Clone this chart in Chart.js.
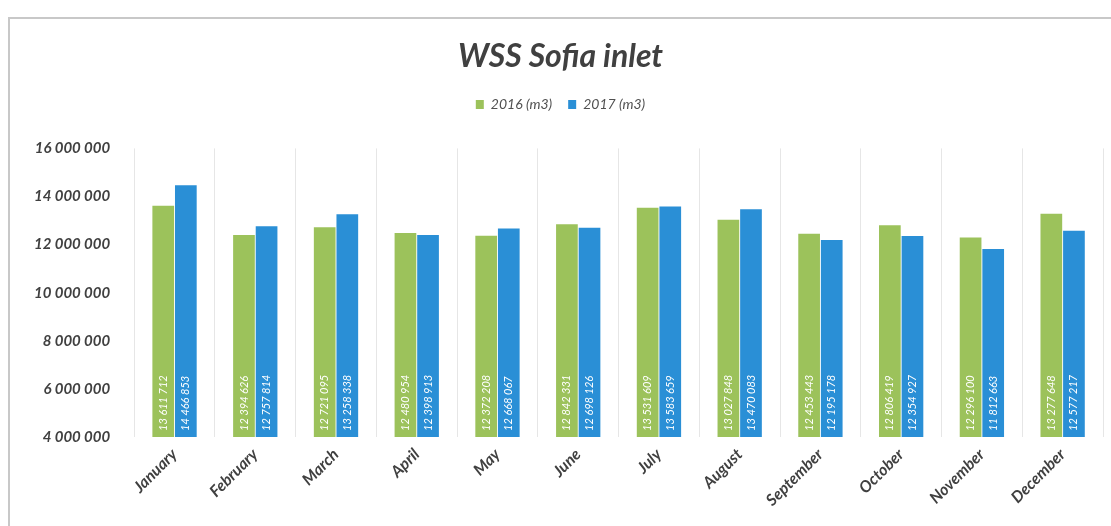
<!DOCTYPE html>
<html>
<head>
<meta charset="utf-8">
<script src="https://cdn.jsdelivr.net/npm/chart.js@4/dist/chart.umd.min.js"></script>
<style>
html,body{margin:0;padding:0;background:#fff;}
#wrap{position:absolute;left:0;top:0;width:1111px;height:526px;}
#frame{position:absolute;left:8px;top:17px;width:1120px;height:520px;border-top:2px solid #c8c8c8;border-left:2px solid #c8c8c8;pointer-events:none;}
canvas{position:absolute;left:0;top:0;}
</style>
</head>
<body>
<div id="wrap">
<canvas id="c" width="1111" height="526"></canvas>
<div id="frame"></div>
</div>
<script>
const titleText = 'WSS Sofia inlet';
const categories = ['January','February','March','April','May','June','July','August','September','October','November','December'];
const series2016Label = '2016 (m3)';
const series2017Label = '2017 (m3)';
const values2016 = [13611712, 12394626, 12721095, 12480954, 12372208, 12842331, 13531609, 13027848, 12453443, 12806419, 12296100, 13277648];
const values2017 = [14466853, 12757814, 13258338, 12398913, 12668067, 12698126, 13583659, 13470083, 12195178, 12354927, 11812663, 12577217];
const yTicks = [4000000, 6000000, 8000000, 10000000, 12000000, 14000000, 16000000];

const fmt = v => String(Math.round(v)).replace(/\B(?=(\d{3})+(?!\d))/g, ' ');
const FONT = 'Lato, "Open Sans", sans-serif';

const barLabels = {
  id: 'barLabels',
  afterDraw(chart) {
    const ctx = chart.ctx;
    const yBottom = chart.scales.y.bottom;
    chart.data.datasets.forEach((ds, di) => {
      const meta = chart.getDatasetMeta(di);
      meta.data.forEach((bar, i) => {
        ctx.save();
        ctx.translate(bar.x, yBottom - 6);
        ctx.rotate(-Math.PI / 2);
        ctx.fillStyle = '#ffffff';
        ctx.font = 'italic 11px ' + FONT;
        ctx.textAlign = 'left';
        ctx.textBaseline = 'middle';
        ctx.fillText(fmt(ds.data[i]), 0, 0);
        ctx.restore();
      });
    });
  }
};

const legendMargin = {
  id: 'legendMargin',
  beforeInit(chart) {
    const orig = chart.legend.fit;
    chart.legend.fit = function () {
      orig.bind(chart.legend)();
      this.height += 27;
    };
  }
};

new Chart(document.getElementById('c'), {
  type: 'bar',
  data: {
    labels: categories,
    datasets: [
      { label: series2016Label, data: values2016, backgroundColor: '#9cc25b', categoryPercentage: 0.56, barPercentage: 0.96 },
      { label: series2017Label, data: values2017, backgroundColor: '#2a8fd6', categoryPercentage: 0.56, barPercentage: 0.96 }
    ]
  },
  options: {
    responsive: false,
    animation: false,
    layout: { padding: { left: 18, right: 8, top: 8, bottom: 8 } },
    plugins: {
      title: {
        display: true,
        text: titleText,
        color: '#404040',
        font: { family: FONT, size: 32, weight: 'bold', style: 'italic' },
        padding: { top: 29, bottom: 6 }
      },
      legend: {
        display: true,
        position: 'top',
        labels: {
          color: '#505050',
          font: { family: FONT, size: 14, style: 'italic' },
          boxWidth: 8, boxHeight: 9,
          padding: 16
        }
      },
      tooltip: { enabled: false }
    },
    scales: {
      x: {
        grid: { display: true, offset: true, color: '#e6e6e6', drawTicks: false },
        border: { display: false },
        ticks: {
          color: '#404040',
          font: { family: FONT, size: 16, weight: 'bold', style: 'italic' },
          maxRotation: 45, minRotation: 45, padding: 8
        }
      },
      y: {
        min: 4000000, max: 16000000,
        afterBuildTicks: axis => { axis.ticks = yTicks.map(v => ({ value: v })); },
        grid: { display: false },
        border: { display: false },
        ticks: {
          color: '#404040',
          font: { family: FONT, size: 15, weight: 'bold', style: 'italic' },
          callback: v => fmt(v),
          padding: 16
        }
      }
    }
  },
  plugins: [barLabels, legendMargin]
});
</script>
</body>
</html>
